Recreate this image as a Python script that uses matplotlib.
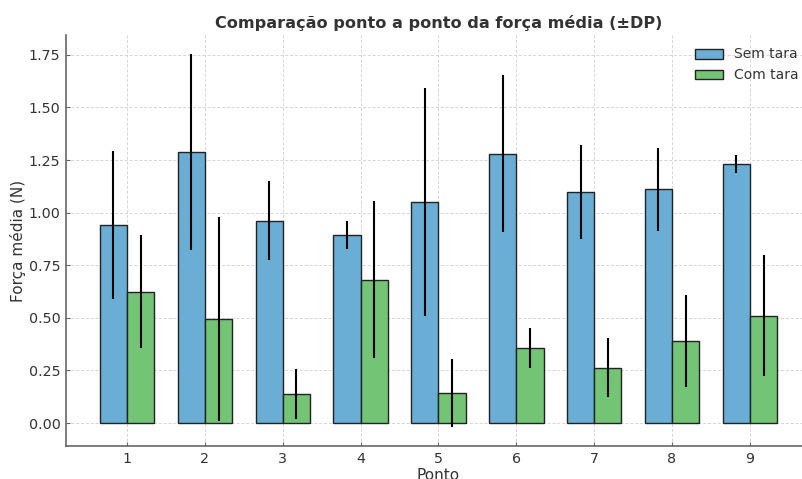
import matplotlib
matplotlib.use('Agg')
import matplotlib.pyplot as plt
import numpy as np

# data
pontos = [1, 2, 3, 4, 5, 6, 7, 8, 9]
sem_tara = [0.941, 1.289, 0.961, 0.894, 1.049, 1.279, 1.098, 1.110, 1.232]
sem_tara_dp = [0.352, 0.466, 0.188, 0.067, 0.542, 0.373, 0.223, 0.198, 0.043]
com_tara = [0.625, 0.495, 0.138, 0.680, 0.143, 0.357, 0.264, 0.390, 0.511]
com_tara_dp = [0.267, 0.485, 0.121, 0.373, 0.162, 0.095, 0.140, 0.219, 0.288]

txt = '#333333'
plt.rcParams['text.color'] = txt
plt.rcParams['axes.labelcolor'] = txt
plt.rcParams['xtick.color'] = txt
plt.rcParams['ytick.color'] = txt
plt.rcParams['font.size'] = 10

fig = plt.figure(figsize=(8.03, 4.79), dpi=100)
ax = fig.add_axes([66/803, 33/479, 745/803, 411/479])

x = np.array(pontos)
w = 0.35
ax.bar(x - w/2, sem_tara, w, yerr=sem_tara_dp, color='#6aaed6', edgecolor='#222222',
       linewidth=1, label='Sem tara', error_kw=dict(elinewidth=1.5, ecolor='black'), zorder=3)
ax.bar(x + w/2, com_tara, w, yerr=com_tara_dp, color='#74c476', edgecolor='#222222',
       linewidth=1, label='Com tara', error_kw=dict(elinewidth=1.5, ecolor='black'), zorder=3)

ax.set_xticks(x)
ax.set_xticklabels([str(p) for p in pontos])
ax.set_yticks([0, 0.25, 0.5, 0.75, 1.0, 1.25, 1.5, 1.75])
ax.set_xlabel('Ponto', fontsize=11, labelpad=2)
ax.set_ylabel('Força média (N)', fontsize=11, labelpad=2)
ax.set_title('Comparação ponto a ponto da força média (±DP)', fontsize=11.6, fontweight='bold', pad=5)

ax.grid(True, linestyle=(0, (3, 2)), color='#d5d5d5', linewidth=0.7, zorder=0)
ax.set_axisbelow(True)
for s in ['top', 'right']:
    ax.spines[s].set_visible(False)
for s in ['left', 'bottom']:
    ax.spines[s].set_color('#666666')
    ax.spines[s].set_linewidth(1.2)
ax.tick_params(direction='in', length=3, width=0.8, color='#666666', pad=4, labelsize=10.3)
ax.set_ylim(-0.109, 1.844)

ax.legend(loc='upper right', frameon=False, fontsize=10)

plt.savefig('out.png', dpi=100)
plt.close()
